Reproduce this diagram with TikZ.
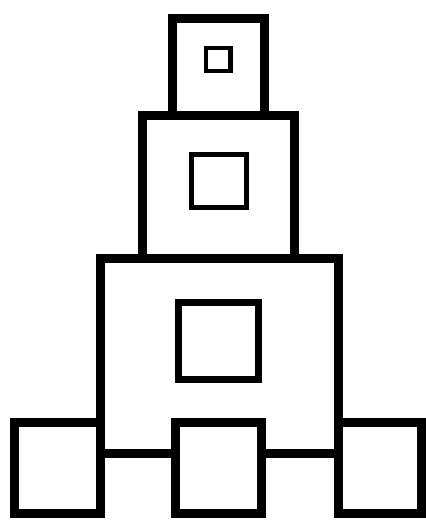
\documentclass[tikz,border=0pt]{standalone}
\begin{document}
\begin{tikzpicture}[x=1pt,y=-1pt,
  thick box/.style={draw=black,line width=9pt,line join=miter},
  inner box/.style={draw=black,line join=miter}]
\useasboundingbox[fill=white] (0,0) rectangle (426,520);
% top tier
\draw[thick box] (172.5,115) -- (172.5,18) -- (264,18) -- (264,115);
\draw[inner box,line width=4.5pt] (206,48) rectangle (230.5,71);
% second tier
\draw[thick box] (142.5,258.5) -- (142.5,115) -- (294.5,115) -- (294.5,258.5);
\draw[inner box,line width=5pt] (191.5,154) rectangle (246,207.5);
% third tier
\draw[thick box] (100,513) -- (100,258.5) -- (338,258.5) -- (338,513);
\draw[inner box,line width=7pt] (178.7,302) rectangle (258.7,379.7);
% bottom boxes
\draw[thick box] (14,422) rectangle (100,513);
\draw[thick box] (175,422) rectangle (261,513);
\draw[thick box] (338,422) rectangle (421,513);
% connecting bars
\draw[thick box] (100,453) -- (175,453);
\draw[thick box] (261,453) -- (338,453);
\end{tikzpicture}
\end{document}
